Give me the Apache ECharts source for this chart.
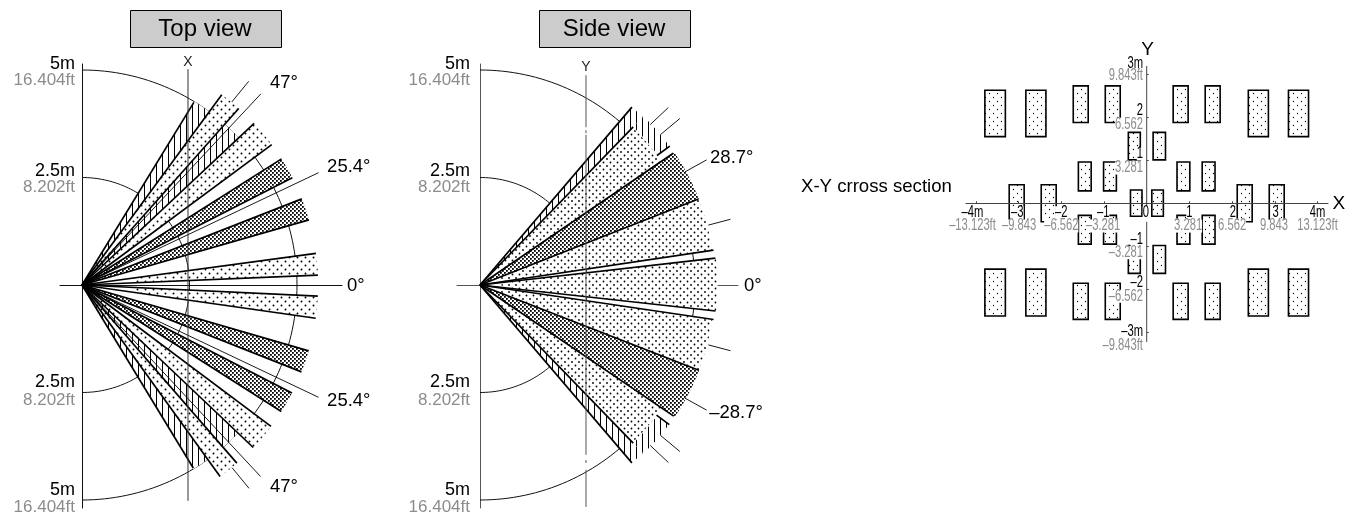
<!DOCTYPE html>
<html><head><meta charset="utf-8">
<style>html,body{margin:0;padding:0;background:#fff}#c{width:1359px;height:515px}</style>
<script src="https://cdn.jsdelivr.net/npm/echarts@6/dist/echarts.min.js"></script>
</head><body><div id="c"></div>
<script>
// ---------- data (metres / degrees) ----------
const DOTS = 0, FINE = 1, HATCH = 2, MID = 3;
const THIN = 0, THICK = 1;
// sectors: [angle from, angle to, pattern start radius, outer radius, pattern]
const topSectors = [
  [43.2,48.4,0.6,5.0,HATCH],[53.7,58.5,0.6,5.0,HATCH],[-49,-43.5,0.6,5.0,HATCH],[-58.7,-54.2,0.6,5.0,HATCH],
  [2.4,7.7,1.2,5.49,DOTS],[16,21.4,0,5.49,FINE],[27,32.3,0,5.49,FINE],[36.5,43.2,0.5,5.49,DOTS],[48.4,53.7,0.5,5.49,DOTS],
  [-8.1,-2.7,1.2,5.49,DOTS],[-21.6,-16.2,0,5.49,FINE],[-32.4,-27.2,0,5.49,FINE],[-43.5,-36.8,0.5,5.49,DOTS],[-54.2,-49,0.5,5.49,DOTS]
];
// rays: [angle, inner radius, outer radius, weight]
const topRays = [
  [25.4,0,6.09,THIN],[-25.4,0,6.09,THIN],[46.9,0,6.09,THIN],[-47,0,6.09,THIN],[50.7,5.5,6.12,THIN],[-50.6,5.5,6.12,THIN],
  [2.4,0,5.49,THICK],[7.7,0,5.49,THICK],[16,0,5.49,THICK],[21.4,0,5.49,THICK],[27,0,5.49,THICK],[32.3,0,5.49,THICK],
  [36.5,0,5.49,THICK],[43.2,0,5.49,THICK],[48.4,0,5.49,THICK],[53.7,0,5.49,THICK],[58.5,0,4.98,THICK],
  [-2.7,0,5.49,THICK],[-8.1,0,5.49,THICK],[-16.2,0,5.49,THICK],[-21.6,0,5.49,THICK],[-27.2,0,5.49,THICK],[-32.4,0,5.49,THICK],
  [-36.8,0,5.49,THICK],[-43.5,0,5.49,THICK],[-49,0,5.49,THICK],[-54.2,0,5.49,THICK],[-58.7,0,4.98,THICK]
];
const sideSectors = [
  [36.2,45.9,5.12,5.46,HATCH],[-45.9,-36.4,5.12,5.46,HATCH],[45.9,49.5,0.5,5.44,HATCH],[-49.5,-45.9,0.5,5.44,HATCH],
  [34.3,45.9,0.5,5.1,MID],[21.5,34.3,0,5.47,FINE],[8.5,21.5,0.5,5.46,MID],[-6.3,6.5,0.5,5.52,MID],
  [-21.3,-8.4,0.5,5.46,MID],[-34.1,-21.3,0,5.47,FINE],[-45.9,-34.1,0.5,5.1,MID]
];
const sideRays = [
  [28.9,5.44,6.02,THIN],[-28.9,5.44,6.02,THIN],[14.7,5.49,6.02,THIN],[-14.7,5.49,6.02,THIN],
  [43.3,5.44,6.02,THIN],[-43.3,5.44,6.02,THIN],[39.8,5.46,6.05,THIN],[-39.8,5.46,6.05,THIN],
  [49.5,0,5.44,THICK],[45.9,0,5.12,THICK],[36.2,5.1,5.47,THICK],[34.3,0,5.44,THICK],[21.5,0,5.46,THICK],[8.5,0,5.49,THICK],[6.5,0,5.51,THICK],
  [-6.3,0,5.51,THICK],[-8.4,0,5.49,THICK],[-21.3,0,5.46,THICK],[-34.1,0,5.44,THICK],[-36.4,5.1,5.47,THICK],[-45.9,0,5.12,THICK],[-49.5,0,5.44,THICK]
];
// range arcs: [radius]
const rangeArcs = [[2.5],[5]];
// plane lines: [x0,y0,x1,y1]
const topXLine = [[2.465,5.02,2.465,-5.02]];
const sideYLine = [[2.465,4.88,2.465,3.67],[2.465,3.6,2.465,3.53],[2.465,3.49,2.465,-3.95],[2.465,-4.07,2.465,-4.14],[2.465,-4.3,2.465,-5.16]];
const crossYLine = [[0,3.193,0,-0.06],[0,-0.43,0,-3.226]];
// detection rectangles on the X-Y plane: [x0,x1,y0,y1]
const crossRects = [
  [-3.79,-3.31,1.55,2.63],[-2.83,-2.36,1.55,2.63],[2.38,2.85,1.55,2.63],[3.32,3.79,1.55,2.63],
  [-1.72,-1.37,1.88,2.73],[-0.97,-0.62,1.88,2.73],[0.62,0.97,1.88,2.73],[1.37,1.72,1.88,2.73],
  [-0.43,-0.15,1.01,1.65],[0.15,0.44,1.01,1.65],
  [-1.60,-1.30,0.29,0.96],[-1.01,-0.71,0.29,0.96],[0.71,1.01,0.29,0.96],[1.30,1.60,0.29,0.96],
  [-3.22,-2.87,-0.43,0.43],[-2.47,-2.12,-0.43,0.43],[2.12,2.47,-0.43,0.43],[2.87,3.22,-0.43,0.43],
  [-0.38,-0.11,-0.30,0.31],[0.12,0.39,-0.30,0.31],
  [-1.60,-1.30,-0.95,-0.28],[-1.01,-0.71,-0.95,-0.28],[0.71,1.01,-0.95,-0.28],[1.30,1.60,-0.95,-0.28],
  [-0.43,-0.15,-1.63,-0.98],[0.15,0.44,-1.63,-0.98],
  [-1.72,-1.37,-2.70,-1.86],[-0.97,-0.62,-2.70,-1.86],[0.62,0.97,-2.70,-1.86],[1.37,1.72,-2.70,-1.86],
  [-3.79,-3.31,-2.62,-1.53],[-2.83,-2.36,-2.62,-1.53],[2.38,2.85,-2.62,-1.53],[3.32,3.79,-2.62,-1.53]
];
// tick labels
const rangeTicks = [5,2.5,-2.5,-5];
const rangeMetres = {'5':'5m','2.5':'2.5m','-2.5':'2.5m','-5':'5m'};
const rangeFeet = {'5':'16.404ft','2.5':'8.202ft','-2.5':'8.202ft','-5':'16.404ft'};
const crossXTicks = [-4,-3,-2,-1,0,1,2,3,4];
const crossYTicks = [-3,-2,-1,1,2,3];
// condensed tick texts: [text, x, y] in metres
const crossBlackX = [['–4m',-4.08,-0.22],['–3',-3.03,-0.22],['–2',-2.0,-0.22],['–1',-1.02,-0.22],['0',-0.02,-0.22],['1',1.0,-0.22],['2',2.02,-0.22],['3',3.02,-0.22],['4m',4.0,-0.22]];
const crossGreyX = [['–13.123ft',-4.08,-0.53],['–9.843',-2.99,-0.53],['–6.562',-2.0,-0.53],['–3.281',-1.02,-0.53],['3.281',0.97,-0.53],['6.562',2.0,-0.53],['9.843',2.98,-0.53],['13.123ft',4.0,-0.53]];
const crossBlackY = [['3m',-0.087,3.26],['2',-0.087,2.15],['1',-0.087,1.15],['–1',-0.087,-0.85],['–2',-0.087,-1.85],['–3m',-0.087,-2.99]];
const crossGreyY = [['9.843ft',-0.087,2.96],['6.562',-0.087,1.84],['3.281',-0.087,0.82],['–3.281',-0.087,-1.15],['–6.562',-0.087,-2.16],['–9.843ft',-0.087,-3.31]];
// annotations: [text, x, y] in metres of each panel
const topNotes = [['47°',4.37,4.70],['25.4°',5.70,2.74],['0°',6.16,-0.02],['25.4°',5.70,-2.70],['47°',4.37,-4.70]];
const sideNotes = [['28.7°',5.35,2.95],['0°',6.14,-0.02],['–28.7°',5.33,-2.98]];
const topAxisName = [['X',2.465,5.19]];
const sideAxisName = [['Y',2.465,5.07]];
const crossAxisNames = [['Y',0.02,3.57],['X',4.50,0]];

// ---------- fills ----------
function pattern(w,h,draw){
  const c=document.createElement('canvas');c.width=w;c.height=h;
  const x=c.getContext('2d');x.fillStyle='#fff';x.fillRect(0,0,w,h);x.fillStyle='#000';draw(x);
  return {image:c,repeat:'repeat'};
}
const dot=(x,px,py,r)=>{x.beginPath();x.arc(px,py,r,0,7);x.fill();};
const fills={};
fills[DOTS]=pattern(8,8,x=>{dot(x,1.5,1.5,.95);dot(x,5.5,5.5,.95);});
fills[MID]=pattern(7,7,x=>{dot(x,1.5,1.5,.9);dot(x,5,5,.9);});
fills[FINE]=pattern(4,4,x=>{x.fillRect(0,0,1.8,1.8);x.fillRect(2,2,1.8,1.8);});
fills[HATCH]=pattern(6,2,x=>{x.fillRect(0,0,1,2);});
const rectFill=pattern(8,8,x=>{dot(x,1.5,1.5,.65);dot(x,5.5,5.5,.65);});

// ---------- renderers ----------
const pol=(a,r)=>[r*Math.cos(a*Math.PI/180),r*Math.sin(a*Math.PI/180)];
function renderSector(p,api){
  const a0=api.value(0),a1=api.value(1),r0=api.value(2),r1=api.value(3),kind=api.value(4);
  const n=24,outer=[],inner=[];
  for(let i=0;i<=n;i++){const a=a0+(a1-a0)*i/n;outer.push(api.coord(pol(a,r1)));inner.unshift(api.coord(pol(a,r0)));}
  return {type:'group',children:[
    {type:'polygon',shape:{points:[api.coord([0,0])].concat(outer)},style:{fill:'#fff',lineWidth:0}},
    {type:'polygon',shape:{points:outer.concat(inner)},style:{fill:fills[kind],lineWidth:0}}
  ]};
}
function renderRay(p,api){
  const a=api.value(0),s=api.coord(pol(a,api.value(1))),e=api.coord(pol(a,api.value(2))),w=api.value(3);
  return {type:'line',shape:{x1:s[0],y1:s[1],x2:e[0],y2:e[1]},style:{stroke:'#000',lineWidth:w===THICK?1.7:0.9}};
}
function renderArc(p,api){
  const r=api.value(0),pts=[];
  for(let a=90;a>=-90;a-=1.5)pts.push(api.coord(pol(a,r)));
  return {type:'polyline',shape:{points:pts},style:{stroke:'#111',fill:null,lineWidth:1}};
}
function renderLine(color){return (p,api)=>{
  const s=api.coord([api.value(0),api.value(1)]),e=api.coord([api.value(2),api.value(3)]);
  return {type:'line',shape:{x1:s[0],y1:s[1],x2:e[0],y2:e[1]},style:{stroke:color,lineWidth:1}};
};}
function renderRect(p,api){
  const a=api.coord([api.value(0),api.value(3)]),b=api.coord([api.value(1),api.value(2)]);
  return {type:'rect',shape:{x:a[0],y:a[1],width:b[0]-a[0],height:b[1]-a[1]},style:{fill:rectFill,stroke:'#000',lineWidth:1.6}};
}
function custom(i,z,data,renderItem){
  return {type:'custom',xAxisIndex:i,yAxisIndex:i,z,silent:true,animation:false,clip:false,data,renderItem};
}
function notes(i,rows,font,align,color){
  return custom(i,8,rows.map(r=>[r[1],r[2]]),(p,api)=>{
    const c=api.coord([api.value(0),api.value(1)]);
    return {type:'text',x:c[0],y:c[1],style:{text:rows[p.dataIndex][0],font,fill:color,align,verticalAlign:'middle'}};
  });
}
// white plate pass (z 11) under the condensed text pass (z 12)
function condensed(rows,align,color,plate){
  return custom(2,plate?11:12,rows.map(r=>[r[1],r[2]]),(p,api)=>{
    const c=api.coord([api.value(0),api.value(1)]);
    const style={text:rows[p.dataIndex][0],font:'16px '+SANS,fill:plate?'rgba(0,0,0,0)':color,align,verticalAlign:'middle',lineHeight:13};
    if(plate)style.backgroundColor='#fff';
    return {type:'text',x:c[0],y:c[1],scaleX:0.7,style};
  });
}
const SANS='"Liberation Sans",Arial,sans-serif';

function rangeAxisLabel(margin){
  const k={fontFamily:SANS,fontSize:18,color:'#000',lineHeight:20,align:'right'};
  const g={fontFamily:SANS,fontSize:17,color:'#8c8c8c',lineHeight:20,align:'right'};
  return {show:true,customValues:rangeTicks,margin,
    formatter:v=>{
      const up=v>0?(v===5?'a':'b'):'c';
      return '{k'+up+'|'+rangeMetres[String(v)]+'}\n{g'+up+'|'+rangeFeet[String(v)]+'}';
    },
    rich:{ka:{...k,lineHeight:21,padding:[9,0,0,0]},ga:{...g,lineHeight:21},kb:{...k,padding:[7,0,0,0]},gb:g,kc:k,gc:{...g,padding:[0,0,5,0]}}};
}
const noTick={show:false};
function polarAxes(idx,left,width,originPx,topPx,botPx,color,margin){
  const S=43;
  return {
    grid:{left,width,top:topPx,height:botPx-topPx,outerBoundsMode:'none'},
    x:{type:'value',position:'bottom',offset:-(botPx-285),min:(left-originPx)/S,max:(left+width-originPx)/S,gridIndex:idx,splitLine:{show:false},axisTick:noTick,axisLabel:{show:false},
       axisLine:{show:true,onZero:false,lineStyle:{color,width:1}}},
    y:{type:'value',position:'left',offset:-(originPx-left),min:-(botPx-285)/S,max:(285-topPx)/S,gridIndex:idx,splitLine:{show:false},axisTick:noTick,axisLabel:rangeAxisLabel(margin),
       axisLine:{show:true,onZero:false,lineStyle:{color,width:1}}}
  };
}
const A=polarAxes(0,60,282,82,64,508,'#111',7);
const B=polarAxes(1,457,281,480,64,508,'#555',10);

const xC={type:'value',gridIndex:2,position:'bottom',offset:-(342-203.3),min:(966-1146.7)/42.7,max:(1328-1146.7)/42.7,z:10,splitLine:{show:false},
  axisLine:{show:true,onZero:false,lineStyle:{color:'#444',width:1}},
  axisTick:{show:true,customValues:crossXTicks,inside:true,length:2,lineStyle:{color:'#444'}},
  axisLabel:{show:false}};
const yC={type:'value',gridIndex:2,position:'left',offset:-(1146.7-966),min:-(342-203.3)/43,max:(203.3-66)/43,z:9,splitLine:{show:false},
  axisLine:{show:false,onZero:false},
  axisTick:{show:true,customValues:crossYTicks,inside:true,length:2,lineStyle:{color:'#444'}},
  axisLabel:{show:false}};

const box=(x,text)=>({type:'group',children:[
  {type:'rect',shape:{x:x+.5,y:10.5,width:151,height:37},style:{fill:'#cccccc',stroke:'#000',lineWidth:1}},
  {type:'text',x:x+75,y:29,style:{text,font:'24px '+SANS,fill:'#000',align:'center',verticalAlign:'middle'}}
]});

const chart=echarts.init(document.getElementById('c'),null,{renderer:'canvas',width:1359,height:515});
chart.setOption({
  animation:false,backgroundColor:'#fff',
  grid:[A.grid,B.grid,{left:966,width:362,top:66,height:276,outerBoundsMode:'none'}],
  xAxis:[A.x,B.x,xC],yAxis:[A.y,B.y,yC],
  graphic:[box(130,'Top view'),box(539,'Side view'),
    {type:'text',x:801,y:187,style:{text:'X-Y crross section',font:'18.6px '+SANS,fill:'#000',verticalAlign:'middle'}}],
  series:[
    custom(0,1,rangeArcs,renderArc),custom(0,2,topSectors,renderSector),custom(0,3,topRays,renderRay),
    custom(0,4,topXLine,renderLine('#333')),
    notes(0,topNotes,'18.5px '+SANS,'left','#000'),notes(0,topAxisName,'14px '+SANS,'center','#222'),
    custom(1,1,rangeArcs,renderArc),custom(1,2,sideSectors,renderSector),custom(1,3,sideRays,renderRay),
    custom(1,4,sideYLine,renderLine('#555')),
    notes(1,sideNotes,'18.5px '+SANS,'left','#000'),notes(1,sideAxisName,'14px '+SANS,'center','#222'),
    custom(2,1,crossYLine,renderLine('#444')),custom(2,2,crossRects,renderRect),
    notes(2,crossAxisNames,'19px '+SANS,'center','#000'),
    condensed(crossGreyX,'center','',true),condensed(crossBlackX,'center','',true),
    condensed(crossGreyY,'right','',true),condensed(crossBlackY,'right','',true),
    condensed(crossGreyX,'center','#8c8c8c'),condensed(crossBlackX,'center','#000'),
    condensed(crossGreyY,'right','#8c8c8c'),condensed(crossBlackY,'right','#000')
  ]
});
</script></body></html>
